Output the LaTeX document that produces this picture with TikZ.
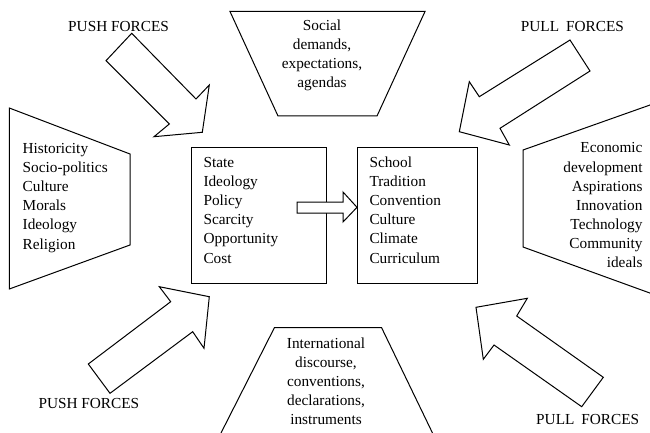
\documentclass[tikz,border=0pt]{standalone}
\usepackage{fontspec}
\setmainfont{Liberation Serif}
\newcommand{\tstrut}{\rule{0pt}{12pt}}
\begin{document}
\begin{tikzpicture}[x=1pt,y=-1pt, line join=miter,
  outline/.style={draw, line width=1pt},
  blockarrow/.style={draw, fill=white, line width=1pt},
  txt/.style={inner sep=0pt, font=\fontsize{15.3}{19.1}\selectfont},
  frame/.style={draw, line width=1pt, inner sep=0pt}]
\useasboundingbox (0,0) rectangle (650,433);

% side trapezoids
\draw[outline] (9.3,108) -- (130,154) -- (130,245) -- (9.3,289) -- cycle;
\draw[outline] (652,104.3) -- (523,150) -- (523,247) -- (652,293.8);
\draw[outline] (230,11.5) -- (425,11.5) -- (377,116) -- (278,116) -- cycle;
\draw[outline] (221,433) -- (274.5,327.5) -- (381.5,327.5) -- (432.5,433);

% central boxes
\node[frame, anchor=north west, minimum width=135pt, minimum height=136pt] (lbox) at (191,147) {};
\node[frame, anchor=north west, minimum width=120pt, minimum height=136pt] (rbox) at (357,147) {};

% small arrow between boxes
\coordinate (tipy) at (0,207.3);
\draw[blockarrow] (297,202) -- (343,202) -- (343,192) -- (rbox.west |- tipy) -- (343,222) -- (343,213) -- (297,213) -- cycle;

% big block arrows
\draw[blockarrow] (131.7,33.3) -- (196,99) -- (209.3,85) -- (202.3,132.3) -- (154,136.7) -- (169.3,124) -- (106,60.7) -- cycle;
\draw[blockarrow] (570,40) -- (479.3,96.7) -- (469.3,81.7) -- (459.3,131.7) -- (509.3,145) -- (500,128.3) -- (590,71) -- cycle;
\draw[blockarrow] (88.3,364) -- (170.7,301.7) -- (159.3,286.7) -- (209.3,296.7) -- (204,348.3) -- (192.7,331.7) -- (110,393.3) -- cycle;
\draw[blockarrow] (603.3,377.3) -- (516.7,316) -- (527.3,298.3) -- (476,307.3) -- (483.3,359.3) -- (494,345) -- (581.7,406.7) -- cycle;

% labels
\node[txt, anchor=base west] (push1) at (68,31.7) {PUSH FORCES};
\node[txt, anchor=base west] (pull1) at (520.7,31.7) {PULL\hspace{0.45em}FORCES};
\node[txt, anchor=base west] (push2) at (38.3,408) {PUSH FORCES};
\node[txt, anchor=base west] (pull2) at (536,424) {PULL\hspace{0.45em}FORCES};

% texts
\node[txt, align=left, anchor=north west] (ltext) at (22.5,141.3)
  {\tstrut Historicity\\Socio-politics\\Culture\\Morals\\Ideology\\Religion};
\node[txt, align=left, anchor=north west] (btext1) at (203.3,155.3)
  {\tstrut State\\Ideology\\Policy\\Scarcity\\Opportunity\\Cost};
\node[txt, align=left, anchor=north west] (btext2) at (369.3,155.3)
  {\tstrut School\\Tradition\\Convention\\Culture\\Climate\\Curriculum};
\node[txt, align=right, anchor=north east] (rtext) at (642.7,140.7)
  {\tstrut Economic\\development\\Aspirations\\Innovation\\Technology\\Community\\ideals};
\node[txt, align=center, anchor=north] (ttext) at (322,18)
  {\tstrut Social\\demands,\\expectations,\\agendas};
\node[txt, align=center, anchor=north] (bottext) at (326,336.3)
  {\tstrut International\\discourse,\\conventions,\\declarations,\\instruments};
\end{tikzpicture}
\end{document}
